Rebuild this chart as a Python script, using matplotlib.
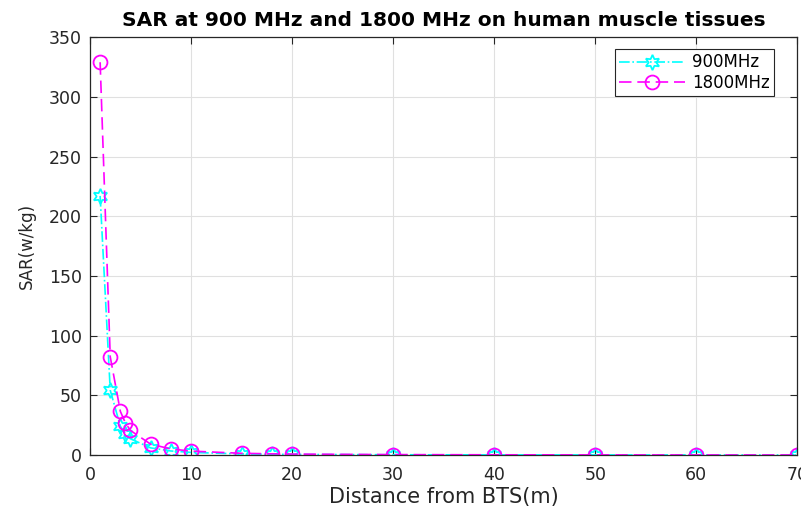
import matplotlib
matplotlib.use('Agg')
import matplotlib.pyplot as plt

# distance from BTS (m)
distance = [1, 2, 3, 3.5, 4, 6, 8, 10, 15, 18, 20, 30, 40, 50, 60, 70]
# SAR (w/kg)
sar_900 = [217, 54.3, 24.1, 17.7, 13.6, 6.0, 3.4, 2.2, 0.96, 0.67, 0.54, 0.24, 0.14, 0.09, 0.06, 0.04]
sar_1800 = [329, 82.3, 36.6, 26.9, 20.6, 9.1, 5.1, 3.3, 1.46, 1.02, 0.82, 0.37, 0.21, 0.13, 0.09, 0.07]

plt.rcParams['font.family'] = ['DejaVu Sans']

fig = plt.figure(figsize=(8.01, 5.09), dpi=100)
ax = fig.add_axes([0.1124, 0.106, 0.883, 0.821])

ax.plot(distance, sar_900, color='cyan', linestyle='-.', linewidth=1.2,
        marker=(6, 1, 0), markersize=11, markerfacecolor='none',
        markeredgecolor='cyan', markeredgewidth=1.3, label='900MHz')
ax.plot(distance, sar_1800, color='magenta', linestyle='--', dashes=(7.5, 3.5), linewidth=1.2,
        marker='o', markersize=10, markerfacecolor='none',
        markeredgecolor='magenta', markeredgewidth=1.3, label='1800MHz')

ax.set_xlim(0, 70)
ax.set_ylim(0, 350)
ax.set_xticks(range(0, 71, 10))
ax.set_yticks(range(0, 351, 50))
ax.grid(True, color='#e0e0e0', linewidth=0.8)
ax.set_axisbelow(True)
ax.tick_params(direction='in', top=True, right=True, labelsize=12.5, colors='#262626', length=5)
ax.tick_params(axis='x', pad=8)
ax.tick_params(axis='y', pad=6)
for s in ax.spines.values():
    s.set_color('#262626')
    s.set_linewidth(0.9)

ax.set_xlabel('Distance from BTS(m)', fontsize=15, color='#262626', labelpad=2)
ax.set_ylabel('SAR(w/kg)', fontsize=12, color='#262626', labelpad=9)
ax.set_title('SAR at 900 MHz and 1800 MHz on human muscle tissues', fontsize=14.5, fontweight='bold', pad=8)

leg = ax.legend(loc='upper right', bbox_to_anchor=(0.967, 0.971), borderaxespad=0,
                fontsize=12, fancybox=False, framealpha=1, edgecolor='#262626',
                handlelength=4, handletextpad=0.4, labelspacing=0.15, borderpad=0.25)
leg.get_frame().set_linewidth(0.8)

plt.savefig('out.png', dpi=100)
